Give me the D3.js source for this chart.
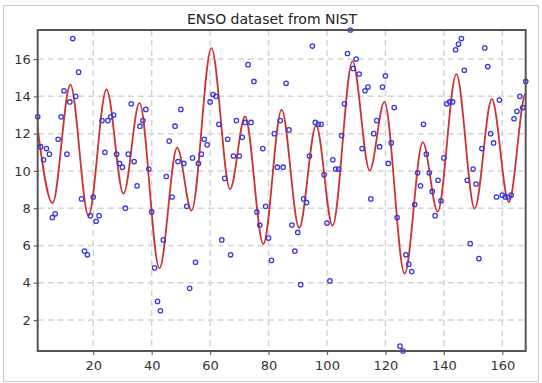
<!DOCTYPE html>
<html>
<head>
<meta charset="utf-8">
<script src="https://cdn.jsdelivr.net/npm/d3@7"></script>
<style>
  body { margin: 0; background: #fff; }
  svg { display: block; font-family: "DejaVu Sans", sans-serif; }
</style>
</head>
<body>
<div id="chart"></div>
<script>
// ENSO monthly values (x = month index 1..168)
const ensoValues = [
  12.9, 11.3, 10.6, 11.2, 10.9, 7.5, 7.7, 11.7, 12.9, 14.3,
  10.9, 13.7, 17.1, 14.0, 15.3, 8.5, 5.7, 5.5, 7.6, 8.6,
  7.3, 7.6, 12.7, 11.0, 12.7, 12.9, 13.0, 10.9, 10.4, 10.2,
  8.0, 10.9, 13.6, 10.5, 9.2, 12.4, 12.7, 13.3, 10.1, 7.8,
  4.8, 3.0, 2.5, 6.3, 9.7, 11.6, 8.6, 12.4, 10.5, 13.3,
  10.4, 8.1, 3.7, 10.7, 5.1, 10.4, 10.9, 11.7, 11.4, 13.7,
  14.1, 14.0, 12.5, 6.3, 9.6, 11.7, 5.5, 10.8, 12.7, 10.8,
  11.8, 12.6, 15.7, 12.6, 14.8, 7.8, 7.1, 11.2, 8.1, 6.4,
  5.2, 12.0, 10.2, 12.7, 10.2, 14.7, 12.2, 7.1, 5.7, 6.7,
  3.9, 8.5, 8.3, 10.8, 16.7, 12.6, 12.5, 12.5, 9.8, 7.2,
  4.1, 10.6, 10.1, 10.1, 11.9, 13.6, 16.3, 17.6, 15.5, 16.0,
  15.2, 11.2, 14.3, 14.5, 8.5, 12.0, 12.7, 11.3, 14.5, 15.1,
  10.4, 11.5, 13.4, 7.5, 0.6, 0.03, 5.5, 5.0, 4.6, 8.2,
  9.9, 9.2, 12.5, 10.9, 9.9, 8.9, 7.6, 9.5, 8.4, 10.7,
  13.6, 13.7, 13.7, 16.5, 16.8, 17.1, 15.4, 9.5, 6.1, 10.1,
  9.3, 5.3, 11.2, 16.6, 15.6, 12.0, 11.5, 8.6, 13.8, 8.7,
  8.6, 8.6, 8.7, 12.8, 13.2, 14.0, 13.4, 14.8
];

// fitted curve, turning points
const fitX = [0.83, 6.08, 12.17, 18.38, 24.53, 30.37, 35.83, 42.66, 48.72, 53.65,
  60.44, 66.82, 71.97, 78.21, 84.47, 90.48, 96.28, 101.91, 108.73, 114.60,
  119.63, 126.57, 132.78, 137.87, 144.27, 150.54, 156.41, 162.22, 168.04, 174.77];
const fitY = [12.47, 8.27, 14.63, 7.60, 14.37, 8.78, 13.65, 4.77, 11.25, 7.87,
  16.59, 9.02, 12.92, 6.09, 13.28, 6.95, 12.43, 7.06, 15.89, 10.02,
  13.70, 4.49, 11.54, 7.81, 15.19, 7.98, 13.85, 8.33, 14.16, 5.55];

const xTicks = [20, 40, 60, 80, 100, 120, 140, 160];
const yTicks = [2, 4, 6, 8, 10, 12, 14, 16];

const W = 542, H = 383;
const margin = {top: 30, right: 16.3, bottom: 32, left: 37.7};
const width = W - margin.left - margin.right,
    height = H - margin.top - margin.bottom;

const svg = d3.select("#chart").append("svg")
    .attr("width", W)
    .attr("height", H);

// outer light frame
svg.append("rect")
    .attr("x", 3.5).attr("y", 5.5)
    .attr("width", 535).attr("height", 376)
    .attr("fill", "none")
    .attr("stroke", "#c8c8c8");

svg.append("text")
    .attr("x", 272).attr("y", 23.5)
    .attr("text-anchor", "middle")
    .attr("font-size", 14)
    .attr("fill", "#222")
    .text("ENSO dataset from NIST");

const g = svg.append("g")
    .attr("transform", "translate(" + margin.left + "," + margin.top + ")");

const x = d3.scaleLinear().domain([1, 168]).range([0, width]);
const y = d3.scaleLinear().domain([0.34, 17.56]).range([height, 0]);
// points below the axis floor sit on the frame, as in the original
const yPts = y.copy().clamp(true);

// grid
g.append("g").selectAll("line").data(xTicks).enter().append("line")
    .attr("x1", d => x(d)).attr("x2", d => x(d))
    .attr("y1", 0).attr("y2", height)
    .attr("stroke", "#d4d4d4").attr("stroke-width", 1.5)
    .attr("stroke-dasharray", "6,4");
g.append("g").selectAll("line").data(yTicks).enter().append("line")
    .attr("x1", 0).attr("x2", width)
    .attr("y1", d => y(d)).attr("y2", d => y(d))
    .attr("stroke", "#d4d4d4").attr("stroke-width", 1.5)
    .attr("stroke-dasharray", "6,4");

// axes
const xAxis = g.append("g")
    .attr("transform", "translate(0," + height + ")")
    .call(d3.axisBottom(x).tickValues(xTicks).tickSize(4).tickPadding(6));
const yAxis = g.append("g")
    .call(d3.axisLeft(y).tickValues(yTicks).tickSize(4).tickPadding(3));
[xAxis, yAxis].forEach(a => {
  a.select(".domain").remove();
  a.selectAll("line").attr("stroke", "#666").attr("stroke-width", 1.2);
  a.selectAll("text").attr("fill", "#333")
      .style("font-family", "DejaVu Sans, sans-serif").style("font-size", "13px");
});

g.append("clipPath").attr("id", "plotclip")
  .append("rect").attr("width", width).attr("height", height);

// fitted curve
const fit = fitX.map((d, i) => ({x: d, y: fitY[i]}));
g.append("path")
    .datum(fit)
    .attr("clip-path", "url(#plotclip)")
    .attr("fill", "none")
    .attr("stroke", "#cc3333")
    .attr("stroke-width", 1.8)
    .attr("d", d3.line().x(d => x(d.x)).y(d => y(d.y)).curve(d3.curveMonotoneX));

// data points
g.append("g").selectAll("circle")
    .data(ensoValues)
    .enter().append("circle")
    .attr("cx", (d, i) => x(i + 1))
    .attr("cy", d => yPts(d))
    .attr("r", 2.2)
    .attr("fill", "none")
    .attr("stroke", "#3a3ad6")
    .attr("stroke-width", 1.3);

// plot frame
g.append("rect")
    .attr("width", width).attr("height", height)
    .attr("fill", "none")
    .attr("stroke", "#555")
    .attr("stroke-width", 2);
</script>
</body>
</html>
